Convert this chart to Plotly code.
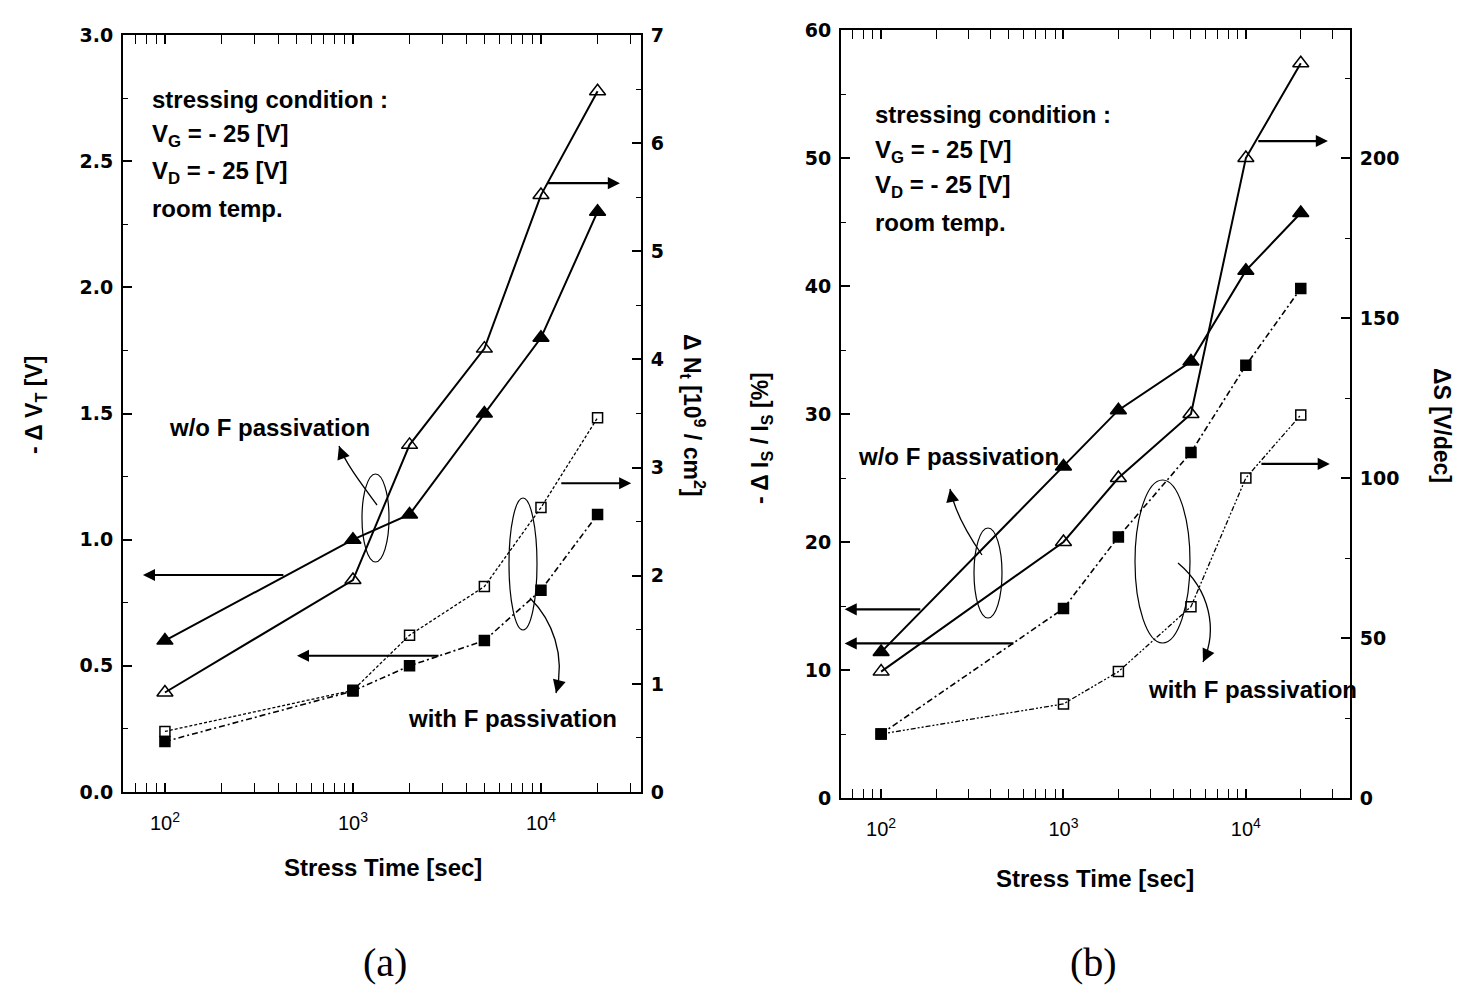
import plotly.graph_objects as go
import math

W, H = 1476, 987
OFF = 8  # page body margin of the browser

# ---------------- data ----------------
stress_time = [100, 1000, 2000, 5000, 10000, 20000]          # [sec]

# panel (a)
dVT_woF = [0.60, 1.00, 1.10, 1.50, 1.80, 2.30]   # -dVT [V], w/o F (filled triangles, left axis)
dNt_woF = [0.92, 1.96, 3.21, 4.10, 5.52, 6.48]   # dNt [1e9/cm2], w/o F (open triangles, right axis)
dVT_F   = [0.20, 0.40, 0.50, 0.60, 0.80, 1.10]   # -dVT [V], with F (filled squares, left axis)
dNt_F   = [0.56, 0.94, 1.45, 1.90, 2.63, 3.46]   # dNt, with F (open squares, right axis)

# panel (b)
dIs_woF = [11.4, 25.9, 30.3, 34.1, 41.2, 45.7]   # -dIs/Is [%], w/o F (filled triangles, left)
dS_woF  = [39.5, 80.0, 100.0, 120.0, 200.0, 229.6]  # dS [V/dec], w/o F (open triangles, right)
dIs_F   = [5.0, 14.8, 20.4, 27.0, 33.8, 39.8]    # -dIs/Is, with F (filled squares, left)
dS_F    = [20.0, 29.4, 39.5, 59.8, 100.0, 119.7]  # dS, with F (open squares, right)

x_tickvals = [100, 1000, 10000]
x_ticktext = ["10<sup>2</sup>", "10<sup>3</sup>", "10<sup>4</sup>"]
x_minor = [m * 10 ** d for d in range(1, 5) for m in range(2, 10)]

# ---------------- helpers ----------------
def px(x):
    return (x - OFF) / W

def py(y):
    return 1 - (y - OFF) / H

BLACK = "black"
TICKFONT = dict(family="DejaVu Sans", size=19, color=BLACK, weight="bold")
XTICKFONT = dict(family="Liberation Sans", size=20, color=BLACK)
TXT = dict(family="Liberation Sans", size=24, color=BLACK, weight="bold")

fig = go.Figure()

def add(x, y, xa, ya, sym, size, dash, width):
    fig.add_trace(go.Scatter(
        x=x, y=y, xaxis=xa, yaxis=ya, mode="lines+markers",
        line=dict(color=BLACK, width=width, dash=dash),
        marker=dict(symbol=sym, size=size, color=BLACK,
                    line=dict(color=BLACK, width=1.5)),
        showlegend=False))

# panel (a)
add(stress_time, dVT_woF, "x", "y", "triangle-up", 14, "solid", 2)
add(stress_time, dNt_woF, "x", "y2", "triangle-up-open", 14, "solid", 2)
add(stress_time, dVT_F, "x", "y", "square", 10, "6px,3px,2px,3px", 1.6)
add(stress_time, dNt_F, "x", "y2", "square-open", 10, "3px,2px", 1.3)
# panel (b)
add(stress_time, dIs_woF, "x2", "y3", "triangle-up", 14, "solid", 2)
add(stress_time, dS_woF, "x2", "y4", "triangle-up-open", 14, "solid", 2)
add(stress_time, dIs_F, "x2", "y3", "square", 10, "6px,3px,2px,3px", 1.6)
add(stress_time, dS_F, "x2", "y4", "square-open", 10, "5px,2px,2px,2px,2px,2px", 1.3)

def xaxis(domain, rng, anchor):
    return dict(domain=domain, type="log", range=rng, anchor=anchor, automargin=False,
                tickmode="array", tickvals=x_tickvals, ticktext=x_ticktext,
                ticks="inside", ticklen=9, tickwidth=1.5, tickcolor=BLACK,
                minor=dict(ticks="inside", ticklen=5, tickwidth=1.2, tickcolor=BLACK,
                           tickmode="array", tickvals=x_minor, showgrid=False),
                showline=True, linewidth=2, linecolor=BLACK, mirror="allticks",
                showgrid=False, zeroline=False, tickfont=XTICKFONT,
                ticklabelstandoff=12)

def yaxis(domain, rng, dtick, anchor, fmt, side="left", overlay=None):
    d = dict(domain=domain, range=rng, dtick=dtick, tick0=0, anchor=anchor,
             side=side, tickformat=fmt, automargin=False,
             ticks="inside", ticklen=9, tickwidth=1.5, tickcolor=BLACK,
             minor=dict(ticks="inside", ticklen=5, tickwidth=1.2, tickcolor=BLACK,
                        dtick=dtick / 2, tick0=0, showgrid=False),
             showline=True, linewidth=2, linecolor=BLACK,
             showgrid=False, zeroline=False, tickfont=TICKFONT,
             ticklabelstandoff=4)
    if overlay:
        d["overlaying"] = overlay
    return d

fig.update_layout(
    width=W, height=H, margin=dict(l=0, r=0, t=0, b=0, autoexpand=False),
    paper_bgcolor="white", plot_bgcolor="white",
    xaxis=xaxis([px(123), px(641)], [1.777, 4.532], "y"),
    yaxis=yaxis([py(792), py(35)], [0, 3], 0.5, "x", ".1f"),
    yaxis2=yaxis([py(792), py(35)], [0, 7], 1, "x", "d", side="right", overlay="y"),
    xaxis2=xaxis([px(841), px(1350)], [1.78, 4.571], "y3"),
    yaxis3=yaxis([py(798), py(30)], [0, 60], 10, "x2", "d"),
    yaxis4=yaxis([py(798), py(30)], [0, 240], 50, "x2", "d", side="right", overlay="y3"),
)

ann = []
def text(x, y, s, font=TXT, angle=0, xanchor="left", yanchor="middle"):
    ann.append(dict(x=px(x), y=py(y), xref="paper", yref="paper", text=s,
                    showarrow=False, font=font, textangle=angle,
                    xanchor=xanchor, yanchor=yanchor))

# condition texts
for (x0, ys) in [(150, [99, 136, 173, 208]), (873, [114, 151, 187, 222])]:
    text(x0, ys[0], "stressing condition :")
    text(x0, ys[1], "V<sub>G</sub> = - 25 [V]")
    text(x0, ys[2], "V<sub>D</sub> = - 25 [V]")
    text(x0, ys[3], "room temp.")

text(167, 427, "w/o F passivation")
text(406, 718, "with F passivation")
text(856, 457, "w/o F passivation")
text(1146, 689, "with F passivation")

# axis titles
TITLE = dict(family="Liberation Sans", size=23, color=BLACK, weight="bold")
text(35, 405, "- Δ V<sub>T</sub> [V]", TITLE, -90, "center", "middle")
text(693, 415, "Δ N<sub>t</sub> [10<sup>9</sup> / cm<sup>2</sup>]", TITLE, 90, "center", "middle")
text(762, 438, "- Δ I<sub>S</sub> / I<sub>S</sub> [%]", TITLE, -90, "center", "middle")
text(1442, 425, "ΔS [V/dec]", TITLE, 90, "center", "middle")

XT = dict(family="Liberation Sans", size=24, color=BLACK, weight="bold")
text(383, 867, "Stress Time [sec]", XT, 0, "center", "middle")
text(1095, 878, "Stress Time [sec]", XT, 0, "center", "middle")

CAP = dict(family="Liberation Serif", size=40, color=BLACK)
text(385, 962, "(a)", CAP, 0, "center", "middle")
text(1093, 962, "(b)", CAP, 0, "center", "middle")

# straight arrows (data coordinates; log10 for x)
def arrow(xr, yr, x_head, x_tail, yv):
    ann.append(dict(x=x_head, y=yv, ax=x_tail, ay=yv, xref=xr, yref=yr,
                    axref=xr, ayref=yr, text="", showarrow=True,
                    arrowhead=2, arrowsize=1.1, arrowwidth=2.2, arrowcolor=BLACK))

arrow("x", "y", 1.883, 2.638, 0.86)
arrow("x", "y", 2.702, 3.463, 0.54)
arrow("x", "y2", 4.42, 4.03, 5.63)
arrow("x", "y2", 4.48, 4.10, 2.855)
arrow("x2", "y3", 1.80, 2.223, 14.74)
arrow("x2", "y3", 1.80, 2.734, 12.08)
arrow("x2", "y4", 4.45, 4.06, 205.3)
arrow("x2", "y4", 4.46, 4.077, 104.4)

# curved callouts with arrowheads
shapes = []
def callout(p0, c1, c2, p1):
    path = "M {},{} C {},{} {},{} {},{}".format(px(p0[0]), py(p0[1]), px(c1[0]), py(c1[1]),
                                               px(c2[0]), py(c2[1]), px(p1[0]), py(p1[1]))
    shapes.append(dict(type="path", path=path, xref="paper", yref="paper",
                       line=dict(color=BLACK, width=1.3)))
    dx, dy = p1[0] - c2[0], p1[1] - c2[1]
    n = math.hypot(dx, dy)
    ann.append(dict(x=px(p1[0]), y=py(p1[1]), xref="paper", yref="paper",
                    ax=-dx / n * 12, ay=-dy / n * 12, text="", showarrow=True,
                    arrowhead=2, arrowsize=1.3, arrowwidth=2, arrowcolor=BLACK))

callout((377, 505), (360, 482), (345, 462), (339, 446))
callout((530, 598), (552, 620), (566, 655), (556, 693))
callout((982, 555), (966, 532), (954, 508), (950, 489))
callout((1178, 563), (1210, 590), (1218, 630), (1203, 662))

# ellipses grouping the curves (pixel box -> paper)
def ellipse(x0, x1, y0, y1):
    shapes.append(dict(type="circle", xref="paper", yref="paper",
                       x0=px(x0), x1=px(x1), y0=py(y1), y1=py(y0),
                       line=dict(color=BLACK, width=1.2)))

ellipse(362, 389, 474, 562)
ellipse(509, 537, 498, 630)
ellipse(974, 1002, 528, 618)
ellipse(1135, 1190, 480, 643)

fig.update_layout(annotations=ann, shapes=shapes)
fig.write_html("out.html")
